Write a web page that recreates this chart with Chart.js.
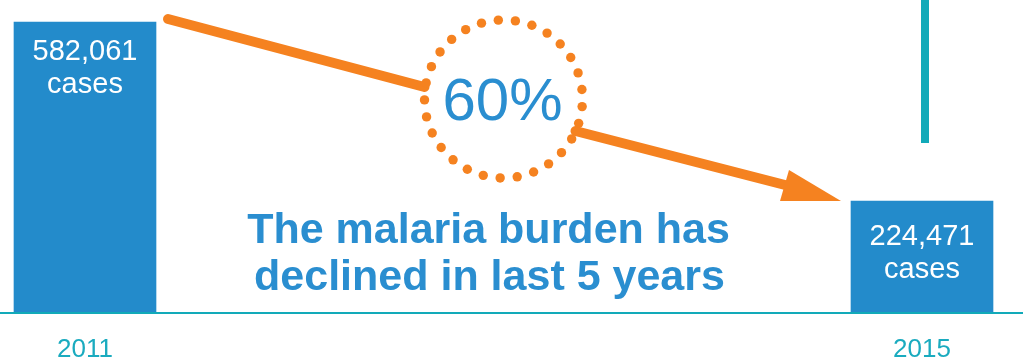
<!DOCTYPE html>
<html>
<head>
<meta charset="utf-8">
<script src="https://cdn.jsdelivr.net/npm/chart.js@4/dist/chart.umd.min.js"></script>
<style>
  html, body { margin: 0; padding: 0; background: #ffffff; }
  #wrap { position: relative; width: 1023px; height: 364px; }
</style>
</head>
<body>
<div id="wrap"><canvas id="c"></canvas></div>
<script>
// ---- data ----
const years = ['2011', '2015'];
const cases = [582061, 224471];
const unitLabel = 'cases';
const declinePct = '60%';
const messageLines = ['The malaria burden has', 'declined in last 5 years'];

const BLUE = '#238BCB';
const TEXT_BLUE = '#2A8ED0';
const ORANGE = '#F58220';
const TEAL = '#12AAB9';

const overlay = {
  id: 'overlay',
  afterDatasetsDraw(chart, args, opts) {
    const ctx = chart.ctx;
    const meta = chart.getDatasetMeta(0);
    const b1 = meta.data[0], b2 = meta.data[1];
    const y0 = chart.scales.y.getPixelForValue(0);
    const ca = chart.chartArea;
    const W = chart.width;
    ctx.save();

    // baseline across full width
    ctx.fillStyle = TEAL;
    ctx.fillRect(0, Math.round(y0) - 1, W, 2);

    // vertical teal bar
    ctx.fillRect(b2.x - 1, 0, 8, 143);

    // bar value labels
    ctx.fillStyle = '#ffffff';
    ctx.textAlign = 'center';
    ctx.textBaseline = 'alphabetic';
    ctx.font = '29px "Liberation Sans", Arial, sans-serif';
    meta.data.forEach((bar, i) => {
      const off = opts.labelOffsets[i];
      ctx.fillText(cases[i].toLocaleString('en-US'), bar.x, bar.y + off);
      ctx.fillText(unitLabel, bar.x, bar.y + off + 33);
    });

    // orange arrow
    const cx = (ca.left + ca.right) / 2;
    const cy = 99;
    ctx.strokeStyle = ORANGE;
    ctx.fillStyle = ORANGE;
    ctx.lineWidth = 10;
    ctx.lineCap = 'round';
    const left1 = b1.x + b1.width / 2;
    ctx.beginPath();
    ctx.moveTo(left1 + 12, b1.y - 3);
    ctx.lineTo(cx - 79, 87);
    ctx.stroke();
    const bx = b2.x - b2.width / 2;
    ctx.beginPath();
    ctx.moveTo(cx + 72, 131);
    ctx.lineTo(bx - 62, b2.y - 15);
    ctx.stroke();
    ctx.lineCap = 'butt';
    ctx.beginPath();
    ctx.moveTo(bx - 62, b2.y - 31);
    ctx.lineTo(bx - 71, b2.y);
    ctx.lineTo(bx - 10, b2.y);
    ctx.closePath();
    ctx.fill();

    // dotted circle
    const R = 79, n = 29;
    for (let k = 0; k < n; k++) {
      const a = -0.12 + k * (2 * Math.PI / n);
      ctx.beginPath();
      ctx.arc(cx + R * Math.cos(a), cy + R * Math.sin(a), 4.7, 0, 2 * Math.PI);
      ctx.fill();
    }

    // 60%
    ctx.fillStyle = TEXT_BLUE;
    ctx.font = '60px "Liberation Sans", Arial, sans-serif';
    ctx.fillText(declinePct, cx - 1, 120);

    // message
    ctx.font = 'bold 43px "Liberation Sans", Arial, sans-serif';
    ctx.fillText(messageLines[0], cx - 15, 243);
    ctx.fillText(messageLines[1], cx - 14, 290);

    ctx.restore();
  }
};

new Chart(document.getElementById('c'), {
  type: 'bar',
  data: {
    labels: years,
    datasets: [{
      data: cases,
      backgroundColor: BLUE,
      borderWidth: 0,
      barThickness: 142,
      clip: false
    }]
  },
  options: {
    responsive: true,
    maintainAspectRatio: false,
    animation: false,
    layout: { padding: { left: 85, right: 101, top: 0, bottom: -22 } },
    plugins: {
      legend: { display: false },
      tooltip: { enabled: false },
      overlay: { labelOffsets: [38, 44] }
    },
    scales: {
      x: {
        offset: false,
        grid: { display: false, drawTicks: false },
        border: { display: false },
        ticks: {
          color: '#1AABBF',
          padding: 22,
          font: { family: '"Liberation Sans", Arial, sans-serif', size: 26, lineHeight: 1.1 },
          maxRotation: 0,
          autoSkip: false
        }
      },
      y: {
        display: false,
        min: 0,
        max: 626000
      }
    }
  },
  plugins: [overlay]
});
</script>
</body>
</html>
